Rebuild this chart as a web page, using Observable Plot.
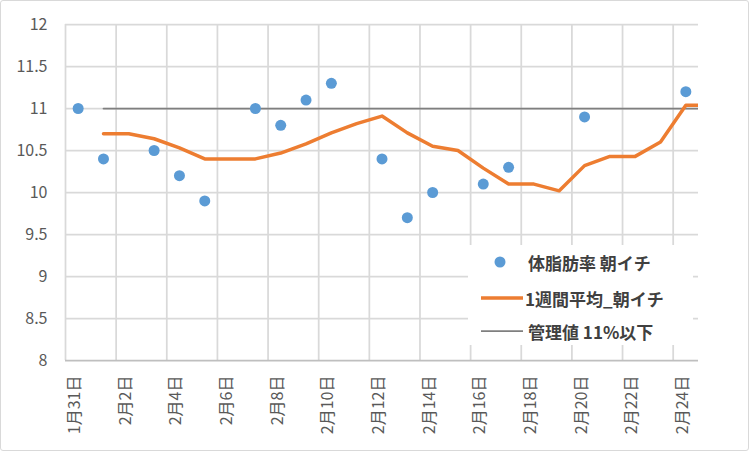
<!DOCTYPE html>
<html>
<head>
<meta charset="utf-8">
<script src="https://cdn.jsdelivr.net/npm/d3@7"></script>
<script src="https://cdn.jsdelivr.net/npm/@observablehq/plot@0.6"></script>
<style>
  html, body { margin: 0; padding: 0; background: #fff; }
  #wrap { position: relative; width: 751px; height: 452px; overflow: hidden; font-family: "Noto Sans CJK JP", "Noto Sans", sans-serif; }
  #chart > svg { position: absolute; left: 0; top: 0; }
  #border { position: absolute; left: 0; top: 0; width: 749px; height: 451px; box-sizing: border-box; border: 1.5px solid #d9d9d9; border-radius: 3px; pointer-events: none; }
  #legend { position: absolute; left: 468px; top: 245px; width: 225px; height: 100px; background: #fff; }
  #legend .item { position: absolute; left: 0; height: 24px; display: flex; align-items: center; font-size: 17px; font-weight: bold; color: #404040; white-space: nowrap; }
  #legend .item svg { position: static; display: block; flex: none; }
</style>
</head>
<body>
<div id="wrap">
  <div id="chart"></div>
  <div id="legend"></div>
  <div id="border"></div>
</div>
<script>
// ---- data ----
const dateLabels = ["1月31日","2月1日","2月2日","2月3日","2月4日","2月5日","2月6日","2月7日","2月8日","2月9日","2月10日","2月11日","2月12日","2月13日","2月14日","2月15日","2月16日","2月17日","2月18日","2月19日","2月20日","2月21日","2月22日","2月23日","2月24日","2月25日"];
const bodyFat = [11.0,10.4,null,10.5,10.2,9.9,null,11.0,10.8,11.1,11.3,null,10.4,9.7,10.0,null,10.1,10.3,null,null,10.9,null,null,null,11.2,null];
const weeklyAvg = [null,10.7,10.7,10.64,10.53,10.4,10.4,10.4,10.47,10.58,10.71,10.82,10.91,10.71,10.55,10.5,10.29,10.1,10.1,10.02,10.32,10.43,10.43,10.6,11.04,11.04];
const limitValue = [null,11,11,11,11,11,11,11,11,11,11,11,11,11,11,11,11,11,11,11,11,11,11,11,11,11];
const yTicks = [8,8.5,9,9.5,10,10.5,11,11.5,12];
const seriesNames = ["体脂肪率 朝イチ","1週間平均_朝イチ","管理値 11%以下"];
const colors = ["#5b9bd5","#ed7d31","#7f7f7f"];

const shownDays = 25; // 1/31 .. 2/24 on the axis
const rows = dateLabels.map((d, i) => ({i, date: d, fat: bodyFat[i], avg: weeklyAvg[i], limit: limitValue[i]}));
const labelIdx = d3.range(0, shownDays, 2);

const chart = Plot.plot({
  width: 751,
  height: 452,
  marginLeft: 65,
  marginRight: 53,
  marginTop: 24,
  marginBottom: 92,
  style: {fontFamily: '"Noto Sans CJK JP", "Noto Sans", sans-serif', color: "#595959", background: "transparent"},
  x: {type: "linear", domain: [-0.5, shownDays - 0.5], axis: null},
  y: {domain: [8, 12], axis: null},
  marks: [
    Plot.ruleY(yTicks.filter(v => v > 8), {stroke: "#d9d9d9", strokeWidth: 1.75}),
    Plot.ruleX(labelIdx, {x: d => d - 0.5, stroke: "#d9d9d9", strokeWidth: 1.75}),
    Plot.ruleY([8], {stroke: "#bfbfbf", strokeWidth: 1.75}),
    Plot.line(rows, {x: "i", y: "limit", stroke: colors[2], strokeWidth: 1.75, clip: true}),
    Plot.line(rows, {x: "i", y: "avg", stroke: colors[1], strokeWidth: 3.5, strokeLinejoin: "round", clip: true}),
    Plot.dot(rows.filter(r => r.fat != null), {x: "i", y: "fat", r: 5.5, fill: colors[0], stroke: "none"}),
    Plot.axisY(yTicks, {tickSize: 0, tickPadding: 18, fontSize: 16, tickFormat: d => String(d)}),
    Plot.text(labelIdx, {x: d => d, text: d => dateLabels[d], frameAnchor: "bottom", rotate: -90, textAnchor: "end", dy: 15, dx: 2, fontSize: 16, fill: "#595959"})
  ]
});
document.getElementById("chart").append(chart);

// ---- legend ----
const legend = document.getElementById("legend");
const rowsY = [5, 41, 74];
const swatches = [
  `<svg width="56" height="24"><circle cx="32" cy="12" r="5.5" fill="${colors[0]}"/></svg>`,
  `<svg width="56" height="24"><line x1="13" x2="55" y1="12" y2="12" stroke="${colors[1]}" stroke-width="3.5"/></svg>`,
  `<svg width="56" height="24"><line x1="13" x2="55" y1="12" y2="12" stroke="${colors[2]}" stroke-width="1.75"/></svg>`
];
const textLeft = [4, 1, 4];
seriesNames.forEach((name, k) => {
  const div = document.createElement("div");
  div.className = "item";
  div.style.top = rowsY[k] + "px";
  div.innerHTML = swatches[k] + `<span style="margin-left:${textLeft[k]}px">${name}</span>`;
  legend.append(div);
});
</script>
</body>
</html>
